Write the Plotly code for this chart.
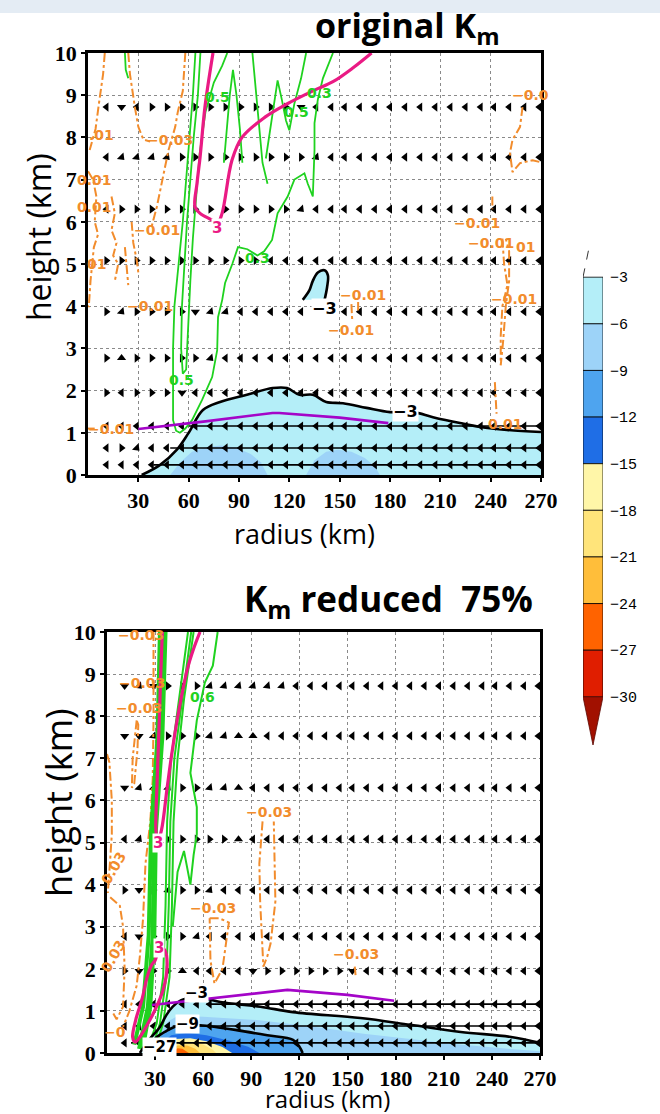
import plotly.graph_objects as go

# ---------------- ticks ----------------
X_TICKS = [30, 60, 90, 120, 150, 180, 210, 240, 270]
Y_TICKS = [0, 1, 2, 3, 4, 5, 6, 7, 8, 9, 10]

# ---------------- wind arrows ----------------
ARROW_X = [11, 20, 29, 38, 47, 56, 64, 73, 82, 91, 100, 109, 118, 127, 136,
           145, 153, 162, 171, 180, 189, 198, 207, 216, 225, 234, 242, 251, 260, 269]
ARROW_ROWS = [8.72, 7.53, 6.30, 5.08, 3.87, 2.77, 1.95, 1.16, 0.64, 0.24]
# '<' left, '>' right, 'v' down, '^' up, 'n' down-right
TOP_ARROW_DIRS = [
    "<v<" ">>>>>>>>>>" "v" "<<<<<<<<<<<<<<<<",
    "<nnnn" ">>>>>>>>>" "n" "<<<<<<<<<<<<<<<",
    "<" ">>>>>>>>>>>>" "n" "<<<<<<<<<<<<<<<<",
    ">>>>>>>>>>>" "<<<<<<<<<<<<<<<<<<<",
    ">n>>>>vnn" "<<<<<<<<<<<<<<<<<<<<<",
    ">^>>>>>n" "<<<<<<<<<<<<<<<<<<<<<<",
    "><>>>v" "<<<<<<<<<<<<<<<<<<<<<<<<",
    "<<<<<<<<<<" "<<<<<<<<<<" "<<<<<<<<<<",
    "<>n" "<<<<<<<<<<<<<<<<<<<<<<<<<<<",
    "<<<<<<<<<<" "<<<<<<<<<<" "<<<<<<<<<<",
]
BOT_ARROW_DIRS = [
    "vnv>>>" "nnnnnn" "<<<<<<<<<<<<<<<<<<",
    "vvn>>>nn^^" "<<<<<<<<<<<<<<<<<<<<",
    "vnnn>>nn^" "<<<<<<<<<<<<<<<<<<<<<",
    "<nn>>>>>^" "<<<<<<<<<<<<<<<<<<<<<",
    ">v>n>>n" "<<<<<<<<<<<<<<<<<<<<<<<",
    "<v>>>n" "<<<<<<<<<<<<<<<<<<<<<<<<",
    ">v>>^<<<<v>>>>>>v" "<<<<<<<<<<<<<",
    "<<<<<<<<<<" "<<<<<<<<<<" "<<<<<<<<<<",
    "<<<<<<<<<<" "<<<<<<<<<<" "<<<<<<<<<<",
    "<<<<<<<<<<" "<<<<<<<<<<" "<<<<<<<<<<",
]
TOP_SHAFT_Y = [1.16, 0.64, 0.24]
TOP_SHAFT_X0 = [60, 49, 39]
BOT_SHAFT_Y = [1.16, 0.64, 0.24]
BOT_SHAFT_X0 = [62, 41, 15]

# ---------------- colour bar ----------------
CBAR_LEVELS = [-3, -6, -9, -12, -15, -18, -21, -24, -27, -30]
CBAR_COLORS = ['#b4eef8', '#9dd3f8', '#4ea4ef', '#1f6ee6', '#fff6a8',
               '#ffe47a', '#ffbe3a', '#ff6300', '#e01e00']
CBAR_BELOW = '#a11000'

# ---------------- top panel (original Km) ----------------
TOP_M3_X = [32, 43, 53, 60, 68.5, 78.7, 94.7, 110, 118.6, 126, 134, 142, 152, 166,
            180, 194, 205.6, 221.7, 233.6, 249.7, 270]
TOP_M3_Y = [0, 0.24, 0.6, 1.0, 1.54, 1.73, 1.9, 2.06, 2.06, 1.9, 1.9, 1.73, 1.7, 1.59,
            1.49, 1.49, 1.37, 1.23, 1.14, 1.07, 1.02]
TOP_BLOB1_X = [49, 55, 62, 70, 79, 88, 97, 103, 107]
TOP_BLOB1_Y = [0, 0.3, 0.55, 0.66, 0.7, 0.65, 0.5, 0.3, 0]
TOP_BLOB2_X = [130, 135, 142, 149, 157, 165, 171, 174]
TOP_BLOB2_Y = [0, 0.35, 0.55, 0.6, 0.55, 0.4, 0.2, 0]
TOP_ISLE_X = [128, 132, 134, 137, 141, 143, 142.5, 141, 128]
TOP_ISLE_Y = [4.15, 4.38, 4.6, 4.8, 4.85, 4.73, 4.45, 4.15, 4.15]
TOP_PURPLE_X = [30, 70, 110, 114, 150, 179]
TOP_PURPLE_Y = [1.09, 1.27, 1.47, 1.47, 1.36, 1.23]
TOP_MAGENTA_X = [74.5, 69.7, 66.8, 65, 63.8, 66.8, 73.9, 77, 79.9, 85.8, 91.8, 105.5,
                 118, 135, 146, 158, 169]
TOP_MAGENTA_Y = [10, 8.72, 7.53, 6.92, 6.35, 6.2, 6.04, 5.95, 6.2, 7.46, 8.0, 8.48,
                 8.78, 9.12, 9.32, 9.65, 10]
TOP_GREEN = [
    ([64, 62.5, 60.5, 58.5, 56.5, 54, 51.5, 50.7, 50.7, 52.5, 54.8, 58, 62, 68, 74, 77,
      77.5, 80, 81.7, 86, 89.4, 95, 101, 105, 109.7, 113, 119, 123, 129, 131, 134, 135,
      135, 137, 140, 146],
     [10, 9, 8, 7, 6, 5, 4, 3, 1.3, 1.05, 1.0, 1.1, 1.3, 1.78, 2.32, 2.96, 3.74, 4.15,
      4.55, 5.0, 5.4, 5.35, 5.2, 5.3, 5.57, 6.2, 6.6, 7.0, 7.15, 6.9, 6.6, 7.7, 8.34,
      8.9, 9.4, 10]),
    ([67, 65.5, 63, 61, 59, 57.5, 56, 55.5, 56.5, 58.5, 59.5, 61, 62.5, 64.5, 66.5, 70,
      75, 80, 83],
     [10, 9, 8, 7, 6, 5, 4, 3, 2.4, 2.5, 3.5, 4.6, 5.6, 6.6, 7.6, 8.6, 9.3, 9.7, 10]),
    ([81, 82.8, 84.5, 86.4, 88.5, 90.6, 92], [7.4, 8.17, 9.0, 9.6, 9.0, 8.17, 7.4]),
    ([98, 100, 102.5, 104, 107], [10, 9.1, 8.17, 7.4, 6.9]),
    ([106, 108.5, 111, 113, 115.5, 118, 120, 123, 127, 130],
     [7.5, 8.17, 8.9, 9.35, 8.9, 8.4, 8.17, 8.8, 9.4, 10]),
    ([22, 22.5, 24], [10, 9.6, 9.4]),
]
TOP_ORANGE = [
    ([10, 9, 6.5, 4.5, 1], [10, 9.5, 8.8, 8.2, 7.7]),
    ([0, 3, 5, 4, 6, 3.5, 2.5, 1.5, 0.5, 0], [7.2, 7.0, 6.6, 6.0, 5.7, 5.4, 5.0, 4.6, 4.0, 4.0]),
    ([14, 16, 14, 17, 15, 18, 16], [6.6, 6.2, 5.8, 5.5, 5.2, 5.0, 4.6]),
    ([24, 25, 28, 30, 33, 37], [10, 9.5, 8.7, 8.25, 7.95, 7.9]),
    ([58, 56.5, 53.5, 52, 48, 46, 44, 41, 38], [10, 9.1, 8.6, 8.25, 7.7, 7.3, 6.9, 6.35, 5.9]),
    ([26, 27, 29, 30], [6.0, 5.5, 5.1, 4.8]),
    ([22, 23, 24], [5.4, 5.0, 4.5]),
    ([0, 4], [1.1, 1.1]),
    ([259, 257.5, 253, 251.5, 253, 257.5, 265, 269], [8.72, 8.25, 7.94, 7.63, 7.18, 7.39, 7.46, 7.42]),
    ([241, 241], [6.6, 6.3]),
    ([247, 248, 250, 247, 246, 246, 247.5, 249, 251, 251, 249],
     [5.6, 5.0, 4.5, 4.0, 3.3, 2.6, 3.2, 4.0, 4.6, 5.3, 5.6]),
    ([242.5, 243, 243.5], [2.2, 1.8, 1.45]),
    ([157, 157.5], [4.05, 3.65]),
    ([161, 161], [4.1, 3.9]),
]
TOP_LABELS_ORANGE = [(8, 8.05, ".01"), (4, 7.0, "0.01"), (4, 6.35, "0.01"), (5, 5.0, "01"),
                     (49, 7.95, "−0.03"), (41, 5.8, "−0.01"), (37, 4.0, "−0.01"),
                     (14, 1.1, "−0.01"), (164, 4.27, "−0.01"), (157, 3.44, "−0.01"),
                     (264, 9.0, "−0.0"), (232, 5.97, "−0.01"), (240, 5.5, "−0.01"),
                     (261, 5.4, "01"), (254, 4.17, "−0.01"), (249, 1.2, "0.01")]
TOP_LABELS_GREEN = [(77, 8.95, "0.5"), (124, 8.6, "0.5"), (138, 9.05, "0.3"),
                    (101, 5.15, "0.3"), (56, 2.25, "0.5")]
TOP_LABELS_BLACK = [(141, 3.95, "−3"), (189, 1.5, "−3")]
TOP_LABELS_MAGENTA = [(77, 5.85, "3")]

# ---------------- bottom panel (Km reduced 75%) ----------------
BOT_M3_X = [20.5, 26, 33, 37, 41, 46, 52, 58, 70.6, 95.6, 116, 158, 189, 220.6, 252, 270]
BOT_M3_Y = [0, 0.3, 0.62, 0.9, 1.1, 1.25, 1.31, 1.32, 1.21, 1.1, 0.97, 0.83, 0.67, 0.5, 0.38, 0.24]
BOT_M9_X = [30, 36, 42, 50, 58, 80, 100, 116, 120, 122]
BOT_M9_Y = [0.35, 0.5, 0.62, 0.67, 0.66, 0.55, 0.42, 0.31, 0.15, 0]
BOT_BANDS = [  # (x, y, index of colour in CBAR_COLORS)
    ([33, 38, 44, 60, 95, 130, 160, 190, 220, 250, 270, 270, 31],
     [0.5, 0.75, 0.88, 0.86, 0.78, 0.62, 0.46, 0.33, 0.2, 0.1, 0.04, 0, 0], 1),
    ([32, 36, 42, 50, 58, 80, 100, 116, 120, 122, 31],
     [0.35, 0.5, 0.62, 0.67, 0.66, 0.55, 0.42, 0.31, 0.15, 0, 0], 2),
    ([35, 40, 50, 62, 75, 88, 95, 34], [0.25, 0.42, 0.48, 0.42, 0.3, 0.15, 0, 0], 3),
    ([38, 42, 52, 62, 72, 78, 37], [0.2, 0.33, 0.35, 0.28, 0.14, 0, 0], 4),
    ([40, 44, 52, 60, 66, 68, 39], [0.15, 0.26, 0.27, 0.2, 0.08, 0, 0], 5),
    ([41, 44, 50, 55, 58, 40], [0.1, 0.18, 0.18, 0.1, 0, 0], 6),
    ([42, 44, 47, 50, 51, 42], [0.05, 0.11, 0.1, 0.04, 0, 0], 7),
]
BOT_PURPLE_X = [28, 70, 112.5, 150, 179]
BOT_PURPLE_Y = [1.14, 1.32, 1.5, 1.38, 1.24]
BOT_MAGENTA = [
    ([58, 54, 50, 43.7, 40, 37.5, 34, 31.5, 30.5, 31.3, 32.5, 33.5, 34.5],
     [10, 9.6, 9.1, 7.9, 7.0, 6.3, 5.3, 5.0, 5.3, 6.5, 7.8, 9.0, 10]),
    ([30, 33, 36, 37.5, 35, 29, 24, 20.5, 17.5, 16, 18, 22, 25, 28, 30],
     [2.2, 2.5, 2.45, 2.1, 1.5, 0.95, 0.6, 0.38, 0.26, 0.38, 0.8, 1.3, 1.8, 2.1, 2.2]),
]
BOT_GREEN_THICK = [
    ([33, 31.5, 27.5, 26, 22.5, 17], [10, 7.5, 5.3, 2.8, 1.1, 0.2]),
    ([35, 33.5, 29.5, 28.5, 25.5, 20], [10, 7.5, 5.3, 2.8, 1.1, 0.1]),
    ([36.5, 34.5, 30.5, 29.5, 27, 22], [10, 7.5, 5.3, 2.8, 1.1, 0.05]),
]
BOT_GREEN = [
    ([50.5, 44, 40, 37.5, 36.5, 35, 31, 26], [10, 8.2, 7.0, 5.5, 3.5, 1.8, 0.7, 0.2]),
    ([52.5, 46, 42, 39.5, 38.5, 37, 33, 28], [10, 8.2, 7.0, 5.5, 3.5, 1.8, 0.7, 0.1]),
    ([54, 48, 44, 41.5, 40.5, 39, 35, 30], [10, 8.4, 7.0, 5.5, 3.5, 1.8, 0.7, 0.1]),
    ([69, 66, 61, 56, 52, 56, 56, 54, 52, 48, 44, 41],
     [10, 9.2, 8.8, 7.9, 6.65, 5.84, 5.2, 4.7, 4.0, 4.8, 4.3, 3.0]),
]
BOT_ORANGE = [
    ([29, 29, 28.5, 27, 24, 22.5, 20.5, 18.5, 14, 10], [10, 7.9, 6.5, 5.5, 4.5, 3.2, 2.3, 1.6, 1.0, 0.62]),
    ([18.5, 16, 15.5, 17, 19, 19.5, 18.5], [7.9, 7.0, 6.3, 6.4, 7.2, 7.8, 7.9]),
    ([0, 1.5, 3, 3, 2, 0.5], [7.1, 6.9, 6.0, 5.2, 4.6, 3.8]),
    ([2, 8, 10, 11, 10, 6, 3], [3.7, 3.5, 3.0, 2.0, 1.1, 0.8, 1.0]),
    ([64, 70, 76, 74, 72, 67, 64.5, 64], [3.2, 3.2, 3.1, 2.6, 2.0, 1.65, 2.2, 3.2]),
    ([97, 95, 95.5, 97.5, 100, 102, 105, 104.5, 104], [5.5, 4.5, 3.6, 2.05, 2.3, 2.6, 3.6, 4.5, 5.5]),
    ([154.5, 155], [2.05, 1.85]),
]
BOT_LABELS_ORANGE = [(21, 9.93, "−0.03"), (22, 8.8, "−0.03"), (20, 8.19, "−0.03"),
                     (101, 5.72, "−0.03"), (66, 3.45, "−0.03"), (155, 2.35, "−0.03"),
                     (5, 0.5, "−0")]
BOT_LABELS_ORANGE_ROT = [(4, 4.4, "0.03"), (4, 2.3, "0.03")]
BOT_LABELS_GREEN = [(59.5, 8.45, "0.6")]
BOT_LABELS_BLACK = [(56, 1.42, "−3"), (50, 0.68, "−9"), (33, 0.15, "−27")]
BOT_LABELS_MAGENTA = [(31.5, 5.0, "3"), (32.5, 2.5, "3")]

# ---------------- styles ----------------
ORANGE = '#f28c2c'
GREEN = '#1fd21f'
MAGENTA = '#ea1a84'
PURPLE = '#a405c8'
ANGLE = {'<': 270, '>': 90, 'v': 180, '^': 0, 'n': 135}

fig = go.Figure()


def line(xs, ys, color, width, xa, ya, dash=None, shape='linear'):
    fig.add_trace(go.Scatter(x=xs, y=ys, mode='lines', xaxis=xa, yaxis=ya,
                             line=dict(color=color, width=width, dash=dash, shape=shape),
                             hoverinfo='skip', showlegend=False))


def poly(xs, ys, color, xa, ya):
    fig.add_trace(go.Scatter(x=xs, y=ys, mode='lines', fill='toself', fillcolor=color,
                             xaxis=xa, yaxis=ya, line=dict(width=0, color=color),
                             hoverinfo='skip', showlegend=False))


def arrows(dirs, shaft_y, shaft_x0, xa, ya):
    for yy, x0 in zip(shaft_y, shaft_x0):
        line([x0, 270], [yy, yy], 'black', 1.6, xa, ya)
    xs, ys, ang = [], [], []
    for yy, row in zip(ARROW_ROWS, dirs):
        for xx, c in zip(ARROW_X, row):
            if c in ANGLE:
                xs.append(xx); ys.append(yy); ang.append(ANGLE[c])
    fig.add_trace(go.Scatter(x=xs, y=ys, mode='markers', xaxis=xa, yaxis=ya,
                             marker=dict(symbol='triangle-up', size=8, angle=ang, color='black',
                                         line=dict(width=0)),
                             hoverinfo='skip', showlegend=False))


# ----- top panel -----
poly(TOP_M3_X + [270, 32], TOP_M3_Y + [0, 0], CBAR_COLORS[0], 'x', 'y')
poly(TOP_BLOB1_X, TOP_BLOB1_Y, CBAR_COLORS[1], 'x', 'y')
poly(TOP_BLOB2_X, TOP_BLOB2_Y, CBAR_COLORS[1], 'x', 'y')
poly(TOP_ISLE_X, TOP_ISLE_Y, CBAR_COLORS[0], 'x', 'y')
arrows(TOP_ARROW_DIRS, TOP_SHAFT_Y, TOP_SHAFT_X0, 'x', 'y')
for xs, ys in TOP_ORANGE:
    line(xs, ys, ORANGE, 2, 'x', 'y', dash='dashdot')
for xs, ys in TOP_GREEN:
    line(xs, ys, GREEN, 1.8, 'x', 'y')
line(TOP_M3_X, TOP_M3_Y, 'black', 2.6, 'x', 'y', shape='spline')
line(TOP_ISLE_X[:-1], TOP_ISLE_Y[:-1], 'black', 2.6, 'x', 'y', shape='spline')
line(TOP_PURPLE_X, TOP_PURPLE_Y, PURPLE, 2.6, 'x', 'y')
line(TOP_MAGENTA_X, TOP_MAGENTA_Y, MAGENTA, 3.2, 'x', 'y', shape='spline')

# ----- bottom panel -----
poly(BOT_M3_X + [270, 20.5], BOT_M3_Y + [0, 0], CBAR_COLORS[0], 'x2', 'y2')
for xs, ys, k in BOT_BANDS:
    poly(xs, ys, CBAR_COLORS[k], 'x2', 'y2')
arrows(BOT_ARROW_DIRS, BOT_SHAFT_Y, BOT_SHAFT_X0, 'x2', 'y2')
for xs, ys in BOT_ORANGE:
    line(xs, ys, ORANGE, 2, 'x2', 'y2', dash='dashdot')
for xs, ys in BOT_GREEN_THICK:
    line(xs, ys, GREEN, 4.0, 'x2', 'y2')
for xs, ys in BOT_GREEN:
    line(xs, ys, GREEN, 2.0, 'x2', 'y2')
line(BOT_M3_X, BOT_M3_Y, 'black', 2.6, 'x2', 'y2', shape='spline')
line(BOT_M9_X, BOT_M9_Y, 'black', 2.6, 'x2', 'y2', shape='spline')
line(BOT_PURPLE_X, BOT_PURPLE_Y, PURPLE, 2.6, 'x2', 'y2')
for xs, ys in BOT_MAGENTA:
    line(xs, ys, MAGENTA, 3.2, 'x2', 'y2', shape='spline')

# ----- colour bar -----
tops = CBAR_LEVELS[:-1]
bottoms = CBAR_LEVELS[1:]
fig.add_trace(go.Bar(x=[0] * len(CBAR_COLORS), y=[t - b for t, b in zip(tops, bottoms)],
                     base=bottoms, width=1, xaxis='x3', yaxis='y3',
                     marker=dict(color=CBAR_COLORS, line=dict(color='black', width=0.8)),
                     hoverinfo='skip', showlegend=False))
fig.add_trace(go.Scatter(x=[-0.5, 0.5, 0, -0.5],
                         y=[CBAR_LEVELS[-1], CBAR_LEVELS[-1], CBAR_LEVELS[-1] - 3.1, CBAR_LEVELS[-1]],
                         mode='lines', fill='toself', fillcolor=CBAR_BELOW,
                         line=dict(color='#5a0800', width=0.8), xaxis='x3', yaxis='y3',
                         hoverinfo='skip', showlegend=False))
fig.add_trace(go.Scatter(x=[-0.5, -0.15], y=[CBAR_LEVELS[0], CBAR_LEVELS[0] + 2.2], mode='lines',
                         line=dict(color='#333', width=1, dash='dash'), xaxis='x3', yaxis='y3',
                         hoverinfo='skip', showlegend=False))

# ----- labels -----
ann = []
LBL_FONT = 'DejaVu Sans'


def labels(items, color, size, xa, ya, bg=None, angle=0):
    for x, y, t in items:
        ann.append(dict(x=x, y=y, xref=xa, yref=ya, text='<b>' + t + '</b>', showarrow=False,
                        font=dict(family=LBL_FONT, size=size, color=color),
                        bgcolor=bg, borderpad=0, textangle=angle))


labels(TOP_LABELS_ORANGE, ORANGE, 14, 'x', 'y')
labels(TOP_LABELS_GREEN, GREEN, 14, 'x', 'y')
labels(TOP_LABELS_BLACK, 'black', 16, 'x', 'y', bg='white')
labels(TOP_LABELS_MAGENTA, MAGENTA, 15, 'x', 'y', bg='white')
labels(BOT_LABELS_ORANGE, ORANGE, 14, 'x2', 'y2')
labels(BOT_LABELS_ORANGE_ROT, ORANGE, 14, 'x2', 'y2', angle=-60)
labels(BOT_LABELS_GREEN, GREEN, 14, 'x2', 'y2')
labels(BOT_LABELS_BLACK, 'black', 15, 'x2', 'y2', bg='white')
labels(BOT_LABELS_MAGENTA, MAGENTA, 15, 'x2', 'y2', bg='white')

W, H = 660, 1114


def px(x):
    return x / W


def py(y):
    return 1 - y / H


TXT = [
    (407, 27, "<b>original K<sub>m</sub></b>", 34, 0),
    (388, 600, "<b>K<sub>m</sub> reduced&nbsp; 75%</b>", 35, 0),
    (38, 237, "height (km)", 32, -90),
    (58, 803, "height (km)", 36, -90),
    (304, 533, "radius (km)", 27, 0),
    (327, 1098, "radius (km)", 24, 0),
]
for x, y, t, s, a in TXT:
    ann.append(dict(x=px(x), y=py(y), xref='paper', yref='paper', text=t, showarrow=False,
                    font=dict(family='Open Sans', size=s, color='black'), textangle=a,
                    xanchor='center', yanchor='middle'))

tickfont = dict(family='Liberation Serif', size=22, color='black', weight='bold')
xcommon = dict(range=[0, 270], tickvals=X_TICKS, showgrid=True, gridcolor='#8a8a8a',
               griddash='dot', gridwidth=1, zeroline=False, showline=True, linecolor='black',
               linewidth=2.5, mirror=True, ticks='outside', ticklen=4, tickwidth=1.5,
               tickcolor='black', tickfont=tickfont, automargin=False)
ycommon = dict(range=[0, 10], tickvals=Y_TICKS, showgrid=True, gridcolor='#8a8a8a',
               griddash='dot', gridwidth=1, zeroline=False, showline=True, linecolor='black',
               linewidth=2.5, mirror=True, ticks='outside', ticklen=4, tickwidth=1.5,
               tickcolor='black', tickfont=tickfont, automargin=False)

fig.update_layout(
    width=W, height=H, margin=dict(l=0, r=0, t=0, b=0, pad=0, autoexpand=False),
    paper_bgcolor='white', plot_bgcolor='white', showlegend=False,
    xaxis=dict(domain=[px(88), px(541)], anchor='y', **xcommon),
    yaxis=dict(domain=[py(475), py(53)], anchor='x', **ycommon),
    xaxis2=dict(domain=[px(107), px(540)], anchor='y2', **xcommon),
    yaxis2=dict(domain=[py(1053), py(632)], anchor='x2', **ycommon),
    xaxis3=dict(domain=[px(583), px(603)], anchor='y3', range=[-0.5, 0.5], visible=False,
                automargin=False),
    yaxis3=dict(domain=[py(745), py(243)], anchor='x3', range=[-33.1, -0.8], side='right',
                tickvals=CBAR_LEVELS, ticktext=['−' + str(-v) for v in CBAR_LEVELS],
                showgrid=False, zeroline=False, showline=False, ticks='',
                ticklabelstandoff=6, automargin=False,
                tickfont=dict(family='Liberation Mono', size=15, color='black')),
    annotations=ann,
    shapes=[dict(type='rect', xref='paper', yref='paper', x0=0, x1=1, y0=py(13), y1=1,
                 fillcolor='#e4ecf4', line=dict(width=0), layer='below')],
)

fig.write_html(
    "out.html",
    config={'displayModeBar': False},
    post_script=("document.documentElement.style.overflow='hidden';"
                 "document.body.style.margin='0';"
                 "document.body.style.overflow='hidden';"),
)
